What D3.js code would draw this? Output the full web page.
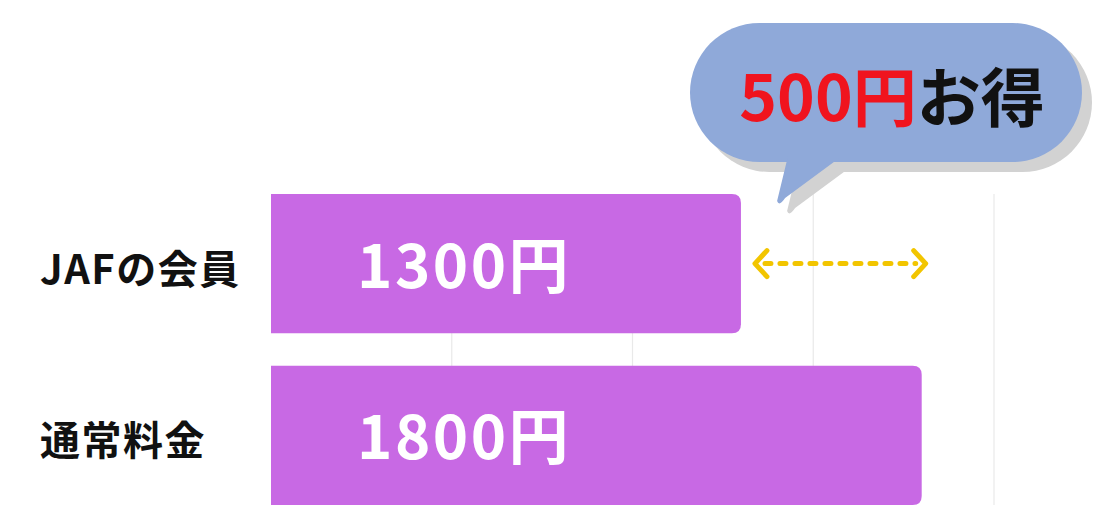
<!DOCTYPE html>
<html>
<head>
<meta charset="utf-8">
<script src="https://cdn.jsdelivr.net/npm/d3@7"></script>
<style>
  html, body { margin: 0; padding: 0; background: #fff; }
  svg { display: block; }
  text { font-family: "Noto Sans CJK JP", "Noto Sans", sans-serif; font-weight: 700; }
</style>
</head>
<body>
<div id="chart"></div>
<script>
// data
var categories = ['JAFの会員', '通常料金'];
var prices = [1300, 1800];
var unit = '円';
var gridTicks = [500, 1000, 1500, 2000];
var calloutWord = 'お得';

var W = 1100, H = 526;

var svg = d3.select('#chart').append('svg')
    .attr('width', W)
    .attr('height', H);

var x = d3.scaleLinear().domain([0, 2000]).range([271, 994]);
var y = d3.scaleBand().domain(categories).range([194, 505]).paddingInner(0.19).paddingOuter(0);

// grid
svg.append('g').selectAll('line')
    .data(gridTicks)
    .enter().append('line')
    .attr('x1', function(d){ return x(d); })
    .attr('x2', function(d){ return x(d); })
    .attr('y1', y.range()[0])
    .attr('y2', y.range()[1])
    .attr('stroke', '#e9e9e9')
    .attr('stroke-width', 1.2);

// bars, rounded on the right only
function barPath(x0, x1, y0, h, r) {
  return 'M' + x0 + ',' + y0 +
    'H' + (x1 - r) +
    'Q' + x1 + ',' + y0 + ' ' + x1 + ',' + (y0 + r) +
    'V' + (y0 + h - r) +
    'Q' + x1 + ',' + (y0 + h) + ' ' + (x1 - r) + ',' + (y0 + h) +
    'H' + x0 + 'Z';
}

var rows = categories.map(function(c, i){ return {cat: c, val: prices[i]}; });

svg.append('g').selectAll('path')
    .data(rows)
    .enter().append('path')
    .attr('d', function(d){ return barPath(x(0), x(d.val), y(d.cat), y.bandwidth(), 9); })
    .attr('fill', '#c869e4');

// value labels inside bars
svg.append('g').selectAll('text')
    .data(rows)
    .enter().append('text')
    .attr('x', x(0) + 86)
    .attr('y', function(d){ return y(d.cat) + y.bandwidth() / 2 + 24; })
    .attr('fill', '#fff')
    .attr('font-size', 60)
    .attr('letter-spacing', 2.5)
    .text(function(d){ return d.val + unit; });

// category labels
svg.append('g').selectAll('text')
    .data(rows)
    .enter().append('text')
    .attr('x', 40)
    .attr('y', function(d){ return y(d.cat) + y.bandwidth() / 2 + 20; })
    .attr('fill', '#111')
    .attr('font-size', 40)
    .attr('letter-spacing', 1.5)
    .text(function(d){ return d.cat; });

// dashed double arrow between the two bar ends
var ay = y(categories[0]) + y.bandwidth() / 2;
var ax0 = x(prices[0]) + 14, ax1 = x(prices[1]) + 4;
var arrow = svg.append('g')
    .attr('stroke', '#f2c500')
    .attr('stroke-width', 5)
    .attr('stroke-linecap', 'round')
    .attr('fill', 'none');
arrow.append('line')
    .attr('x1', ax0 + 10).attr('x2', ax1 - 10)
    .attr('y1', ay).attr('y2', ay)
    .attr('stroke-dasharray', '6,9');
arrow.append('path')
    .attr('d', 'M' + (ax0 + 12) + ',' + (ay - 13) + 'L' + ax0 + ',' + ay + 'L' + (ax0 + 12) + ',' + (ay + 13))
    .attr('stroke-linejoin', 'round');
arrow.append('path')
    .attr('d', 'M' + (ax1 - 12) + ',' + (ay - 13) + 'L' + ax1 + ',' + ay + 'L' + (ax1 - 12) + ',' + (ay + 13))
    .attr('stroke-linejoin', 'round');

// callout bubble
var bx0 = 690, bx1 = 1082, by0 = 23, by1 = 162;
var tipX = x(1400), tipY = 201;

function bubble(g, fill) {
  g.append('rect')
    .attr('x', bx0).attr('y', by0)
    .attr('width', bx1 - bx0).attr('height', by1 - by0)
    .attr('rx', (by1 - by0) / 2).attr('ry', (by1 - by0) / 2)
    .attr('fill', fill);
  g.append('path')
    .attr('d', 'M' + 788 + ',' + (by1 - 6) + 'L' + tipX + ',' + tipY + 'Q' + (tipX + 2) + ',' + (tipY + 6) + ' ' + (tipX + 8) + ',' + (tipY - 3) + 'L' + 842 + ',' + (by1 - 6) + 'Z')
    .attr('fill', fill);
}
bubble(svg.append('g').attr('transform', 'translate(10,10)'), '#d2d2d2');
bubble(svg.append('g'), '#8fa9d9');

var ct = svg.append('text')
    .attr('x', (bx0 + bx1) / 2 + 6)
    .attr('y', 121)
    .attr('text-anchor', 'middle')
    .attr('font-size', 64);
ct.append('tspan').attr('fill', '#f0141e').text((prices[1] - prices[0]) + unit);
ct.append('tspan').attr('fill', '#111').text(calloutWord);
</script>
</body>
</html>
